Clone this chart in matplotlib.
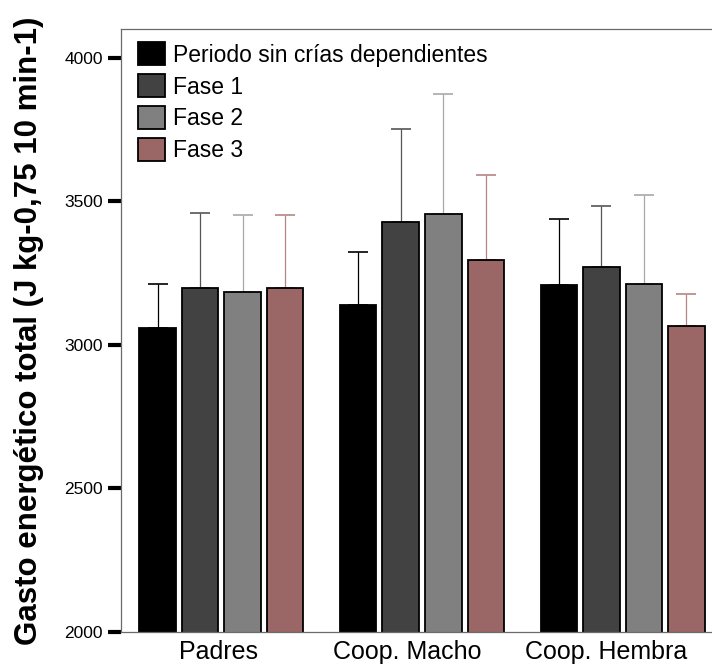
import numpy as np
import matplotlib
matplotlib.use('Agg')
import matplotlib.pyplot as plt
import matplotlib.transforms as mtransforms

plt.rcParams['font.family'] = ['Liberation Sans', 'DejaVu Sans']

# datos
grupos = ['Padres', 'Coop. Macho', 'Coop. Hembra']
fases = ['Periodo sin crías dependientes', 'Fase 1', 'Fase 2', 'Fase 3']
colores = ['#000000', '#424242', '#808080', '#9a6666']
colores_err = ['#000000', '#555555', '#a8a8a8', '#b58585']

media_periodo = [3060, 3139, 3207]
media_fase1 = [3198, 3427, 3272]
media_fase2 = [3184, 3454, 3213]
media_fase3 = [3198, 3294, 3067]

err_periodo = [153, 183, 233]
err_fase1 = [262, 326, 210]
err_fase2 = [269, 418, 308]
err_fase3 = [255, 299, 110]

medias = [media_periodo, media_fase1, media_fase2, media_fase3]
errores = [err_periodo, err_fase1, err_fase2, err_fase3]

fig = plt.figure(figsize=(7.12, 6.68), dpi=100)
ax = fig.add_axes([121/712, 36/668, 602/712, 603/668])

x = np.arange(len(grupos))
paso = 0.212
ancho = 0.182
for i in range(4):
    pos = x + (i - 1.5) * paso
    ax.errorbar(pos, medias[i], yerr=[np.zeros(3), errores[i]], fmt='none',
                ecolor=colores_err[i], elinewidth=0.9, capsize=7.2, capthick=1.2, zorder=1)
    ax.bar(pos, medias[i], width=ancho, color=colores[i], edgecolor='black',
           linewidth=1.3, label=fases[i], zorder=2)

ax.set_xlim(-0.5, 2.5)
ax.set_ylim(2000, 4100)
ax.set_yticks([2000, 2500, 3000, 3500, 4000])
ax.set_xticks(x)
ax.set_xticklabels(grupos, fontsize=18)
ax.tick_params(axis='x', length=0, pad=6)
ax.tick_params(axis='y', length=9.4, width=3, direction='out', color='black', labelsize=12.5, pad=3.5)

# las etiquetas del original estan algo desplazadas a la izquierda
desplaz = [-3, -15, -17]
for lab, d in zip(ax.get_xticklabels(), desplaz):
    lab.set_transform(lab.get_transform() + mtransforms.ScaledTranslation(d/100, 0, fig.dpi_scale_trans))

for lado in ['left', 'top', 'bottom', 'right']:
    ax.spines[lado].set_color('#6a6a6a')
    ax.spines[lado].set_linewidth(0.9)

ax.set_ylabel('Gasto energético total (J kg-0,75 10 min-1)', fontsize=22.5, fontweight='bold')
ax.yaxis.set_label_coords(-77/602, 0.499)

ax.legend(loc='upper left', bbox_to_anchor=(0.028, 0.978), frameon=False, fontsize=16.5,
          handlelength=1.18, handleheight=1.18, handletextpad=0.35, labelspacing=0.33,
          borderaxespad=0, borderpad=0)

plt.savefig('out.png', dpi=100)
